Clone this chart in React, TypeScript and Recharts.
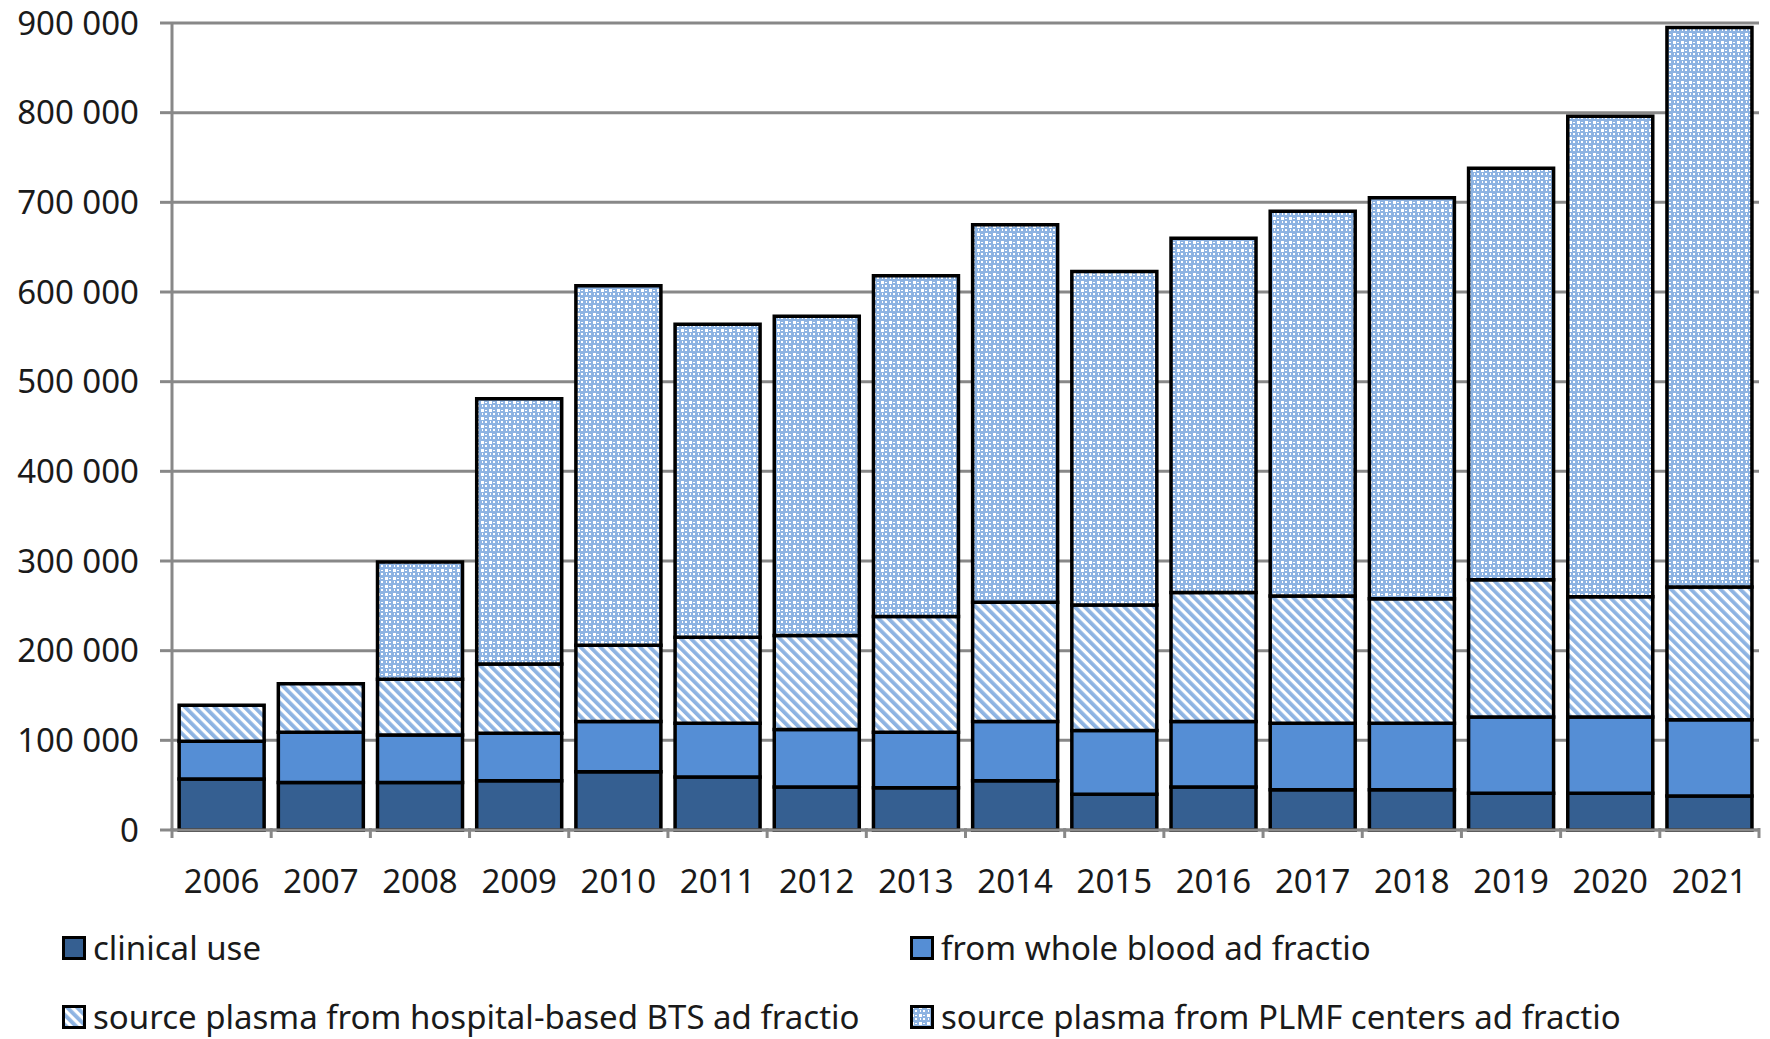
import { BarChart, Bar, XAxis, YAxis, CartesianGrid, Legend } from 'recharts';

const years = ['2006', '2007', '2008', '2009', '2010', '2011', '2012', '2013', '2014', '2015', '2016', '2017', '2018', '2019', '2020', '2021'];
const clinical = [57000, 53000, 53000, 55000, 65000, 59000, 48000, 47000, 55000, 40000, 48000, 45000, 45000, 41000, 41000, 38000];
const wholeBlood = [42000, 56000, 53000, 53000, 56000, 60000, 64000, 62000, 66000, 71000, 73000, 74000, 74000, 85000, 85000, 85000];
const hospital = [40000, 54000, 62000, 77000, 85000, 96000, 105000, 129000, 133000, 140000, 144000, 142000, 139000, 153000, 134000, 148000];
const plmf = [0, 0, 131000, 296000, 401000, 349000, 356000, 380000, 421000, 372000, 395000, 429000, 447000, 459000, 536000, 624000];
const yTicks = [0, 100000, 200000, 300000, 400000, 500000, 600000, 700000, 800000, 900000];

const SERIES = [
  { key: 'clinical', name: 'clinical use', fill: '#355f91' },
  { key: 'wholeBlood', name: 'from whole blood ad fractio', fill: '#558ed5' },
  { key: 'hospital', name: 'source plasma from hospital-based BTS ad fractio', fill: 'url(#stripes)' },
  { key: 'plmf', name: 'source plasma from PLMF centers ad fractio', fill: 'url(#lattice)' },
];

const data = years.map((year, i) => ({
  year,
  clinical: clinical[i],
  wholeBlood: wholeBlood[i],
  hospital: hospital[i],
  plmf: plmf[i],
}));

const FONT = '"Noto Sans", sans-serif';
const GRAY = '#888888';

const fmt = (v: number) => (v === 0 ? '0' : String(v).replace(/\B(?=(\d{3})+(?!\d))/g, ' '));

const XTick = ({ x, y, payload, index }: any) => {
  const half = payload.offset || 0;
  return (
    <g>
      <line x1={x - half} x2={x - half} y1={y - 10} y2={y} stroke={GRAY} strokeWidth={3} />
      {index === years.length - 1 && (
        <line x1={x + half} x2={x + half} y1={y - 10} y2={y} stroke={GRAY} strokeWidth={3} />
      )}
      <text x={x} y={y + 55} textAnchor="middle" fontFamily={FONT} fontSize={33} fill="#1a1a1a">
        {payload.value}
      </text>
    </g>
  );
};

const LegendBox = () => {
  const pos = [
    { left: 62, top: 21 },
    { left: 910, top: 21 },
    { left: 62, top: 90 },
    { left: 910, top: 90 },
  ];
  return (
    <div style={{ position: 'relative', width: 1770, height: 130 }}>
      {SERIES.map((s, i) => (
        <div key={s.key} style={{ position: 'absolute', left: pos[i].left, top: pos[i].top, display: 'flex', alignItems: 'center', whiteSpace: 'nowrap' }}>
          <svg width={24} height={24} style={{ marginRight: 7 }}>
            <rect x={1.5} y={1.5} width={21} height={21} fill={s.fill} stroke="#000" strokeWidth={3} />
          </svg>
          <span style={{ fontFamily: FONT, fontSize: 33, color: '#1a1a1a', lineHeight: '36px' }}>{s.name}</span>
        </div>
      ))}
    </div>
  );
};

export default function App() {
  return (
    <div style={{ position: 'absolute', left: 0, top: 0, width: 1770, height: 1039, background: '#fff' }}>
      <BarChart width={1770} height={1039} data={data} margin={{ top: 23, right: 11, bottom: 0, left: 0 }} barCategoryGap="7.2%">
        <defs>
          <pattern id="stripes" width={7} height={7} patternUnits="userSpaceOnUse" patternTransform="rotate(-45)">
            <rect width={7} height={7} fill="#ffffff" />
            <rect width={3.8} height={7} fill="#8db3e2" />
          </pattern>
          <pattern id="lattice" width={8} height={8} patternUnits="userSpaceOnUse">
            <rect width={8} height={8} fill="#8db3e2" />
            <rect x={1} y={1} width={3} height={3} fill="#ffffff" />
            <rect x={5} y={5} width={2} height={2} fill="#ffffff" />
            <rect x={5} y={2} width={2} height={1} fill="#ffffff" />
            <rect x={2} y={5} width={1} height={2} fill="#ffffff" />
          </pattern>
        </defs>
        <CartesianGrid vertical={false} stroke={GRAY} strokeWidth={3} />
        <XAxis
          dataKey="year"
          height={79}
          axisLine={{ stroke: GRAY, strokeWidth: 3 }}
          tickLine={false}
          tick={<XTick />}
          interval={0}
        />
        <YAxis
          width={172}
          domain={[0, 900000]}
          ticks={yTicks}
          tickFormatter={fmt}
          axisLine={{ stroke: GRAY, strokeWidth: 3 }}
          tickLine={{ stroke: GRAY, strokeWidth: 3 }}
          tickSize={12}
          tickMargin={21}
          tick={{ fontFamily: FONT, fontSize: 33, fill: '#1a1a1a' }}
        />
        <Legend verticalAlign="bottom" height={130} content={<LegendBox />} />
        {SERIES.map((s) => (
          <Bar key={s.key} dataKey={s.key} name={s.name} stackId="a" fill={s.fill} stroke="#000" strokeWidth={3.5} isAnimationActive={false} />
        ))}
      </BarChart>
    </div>
  );
}
